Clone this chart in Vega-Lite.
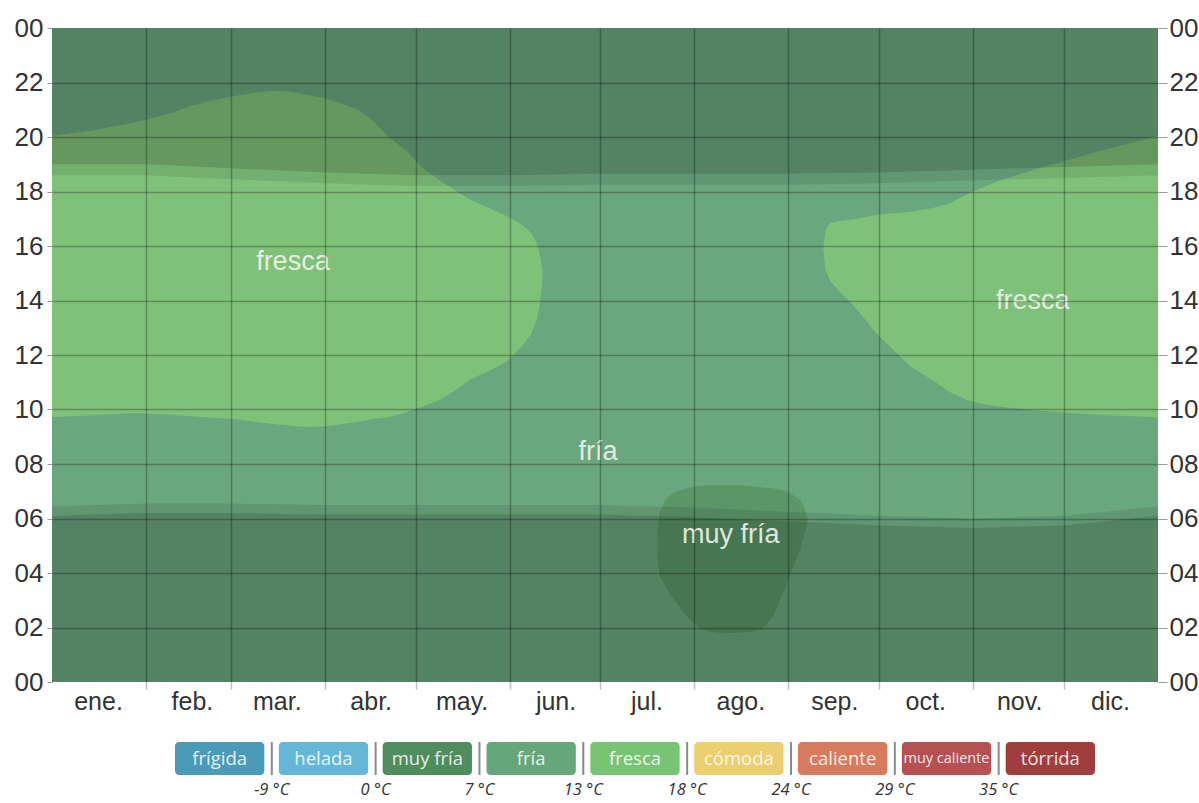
{
  "$schema": "https://vega.github.io/schema/vega-lite/v6.json",
  "padding": {"left": 14, "top": 15, "right": 5, "bottom": 5},
  "background": "white",
  "config": {"font": "Liberation Sans", "view": {"stroke": null}},
  "datasets": {
    "regions": [
      {"cat": "fría", "region": "fr", "day": 0, "hi": 24, "lo": 0},
      {"cat": "fría", "region": "fr", "day": 365, "hi": 24, "lo": 0},
      {"cat": "fresca", "region": "f1", "day": 0, "hi": 20.05, "lo": 9.72},
      {"cat": "fresca", "region": "f1", "day": 14, "hi": 20.25, "lo": 9.8},
      {"cat": "fresca", "region": "f1", "day": 28, "hi": 20.55, "lo": 9.87},
      {"cat": "fresca", "region": "f1", "day": 40, "hi": 20.9, "lo": 9.8},
      {"cat": "fresca", "region": "f1", "day": 46, "hi": 21.15, "lo": 9.75},
      {"cat": "fresca", "region": "f1", "day": 53, "hi": 21.35, "lo": 9.7},
      {"cat": "fresca", "region": "f1", "day": 60, "hi": 21.5, "lo": 9.65},
      {"cat": "fresca", "region": "f1", "day": 67, "hi": 21.62, "lo": 9.55},
      {"cat": "fresca", "region": "f1", "day": 73, "hi": 21.7, "lo": 9.47},
      {"cat": "fresca", "region": "f1", "day": 79, "hi": 21.65, "lo": 9.4},
      {"cat": "fresca", "region": "f1", "day": 84, "hi": 21.55, "lo": 9.36},
      {"cat": "fresca", "region": "f1", "day": 90, "hi": 21.42, "lo": 9.38},
      {"cat": "fresca", "region": "f1", "day": 95, "hi": 21.25, "lo": 9.45},
      {"cat": "fresca", "region": "f1", "day": 101, "hi": 21.0, "lo": 9.55},
      {"cat": "fresca", "region": "f1", "day": 106, "hi": 20.6, "lo": 9.65},
      {"cat": "fresca", "region": "f1", "day": 111, "hi": 20.0, "lo": 9.72},
      {"cat": "fresca", "region": "f1", "day": 117, "hi": 19.5, "lo": 9.9},
      {"cat": "fresca", "region": "f1", "day": 122, "hi": 18.9, "lo": 10.1},
      {"cat": "fresca", "region": "f1", "day": 128, "hi": 18.4, "lo": 10.35},
      {"cat": "fresca", "region": "f1", "day": 133, "hi": 18.05, "lo": 10.7},
      {"cat": "fresca", "region": "f1", "day": 138, "hi": 17.7, "lo": 11.1},
      {"cat": "fresca", "region": "f1", "day": 144, "hi": 17.4, "lo": 11.4},
      {"cat": "fresca", "region": "f1", "day": 150, "hi": 17.1, "lo": 11.75},
      {"cat": "fresca", "region": "f1", "day": 155, "hi": 16.8, "lo": 12.3},
      {"cat": "fresca", "region": "f1", "day": 158, "hi": 16.5, "lo": 12.75},
      {"cat": "fresca", "region": "f1", "day": 160, "hi": 16.1, "lo": 13.3},
      {"cat": "fresca", "region": "f1", "day": 161.2, "hi": 15.6, "lo": 14.0},
      {"cat": "fresca", "region": "f1", "day": 161.8, "hi": 15.1, "lo": 14.6},
      {"cat": "fresca", "region": "f2", "day": 254.5, "hi": 15.9, "lo": 15.9},
      {"cat": "fresca", "region": "f2", "day": 255.3, "hi": 16.6, "lo": 15.1},
      {"cat": "fresca", "region": "f2", "day": 257, "hi": 16.85, "lo": 14.7},
      {"cat": "fresca", "region": "f2", "day": 260, "hi": 16.92, "lo": 14.3},
      {"cat": "fresca", "region": "f2", "day": 263, "hi": 16.95, "lo": 14.0},
      {"cat": "fresca", "region": "f2", "day": 268, "hi": 17.05, "lo": 13.35},
      {"cat": "fresca", "region": "f2", "day": 272, "hi": 17.15, "lo": 12.8},
      {"cat": "fresca", "region": "f2", "day": 278, "hi": 17.2, "lo": 12.15},
      {"cat": "fresca", "region": "f2", "day": 283, "hi": 17.25, "lo": 11.6},
      {"cat": "fresca", "region": "f2", "day": 291, "hi": 17.4, "lo": 11.05},
      {"cat": "fresca", "region": "f2", "day": 296, "hi": 17.55, "lo": 10.65},
      {"cat": "fresca", "region": "f2", "day": 302, "hi": 17.9, "lo": 10.35},
      {"cat": "fresca", "region": "f2", "day": 307, "hi": 18.15, "lo": 10.2},
      {"cat": "fresca", "region": "f2", "day": 313, "hi": 18.4, "lo": 10.1},
      {"cat": "fresca", "region": "f2", "day": 324, "hi": 18.8, "lo": 9.97},
      {"cat": "fresca", "region": "f2", "day": 335, "hi": 19.15, "lo": 9.88},
      {"cat": "fresca", "region": "f2", "day": 346, "hi": 19.5, "lo": 9.8},
      {"cat": "fresca", "region": "f2", "day": 355, "hi": 19.75, "lo": 9.76},
      {"cat": "fresca", "region": "f2", "day": 365, "hi": 20.05, "lo": 9.72},
      {"cat": "muy fría", "region": "mf", "day": 199.8, "hi": 5.4, "lo": 4.6},
      {"cat": "muy fría", "region": "mf", "day": 200.5, "hi": 6.2, "lo": 3.9},
      {"cat": "muy fría", "region": "mf", "day": 202.5, "hi": 6.7, "lo": 3.5},
      {"cat": "muy fría", "region": "mf", "day": 205, "hi": 6.95, "lo": 3.05},
      {"cat": "muy fría", "region": "mf", "day": 209.5, "hi": 7.12, "lo": 2.4},
      {"cat": "muy fría", "region": "mf", "day": 214, "hi": 7.2, "lo": 1.95},
      {"cat": "muy fría", "region": "mf", "day": 219, "hi": 7.22, "lo": 1.82},
      {"cat": "muy fría", "region": "mf", "day": 224, "hi": 7.22, "lo": 1.8},
      {"cat": "muy fría", "region": "mf", "day": 229, "hi": 7.2, "lo": 1.82},
      {"cat": "muy fría", "region": "mf", "day": 234, "hi": 7.15, "lo": 1.9},
      {"cat": "muy fría", "region": "mf", "day": 238, "hi": 7.1, "lo": 2.4},
      {"cat": "muy fría", "region": "mf", "day": 242.5, "hi": 7.0, "lo": 3.6},
      {"cat": "muy fría", "region": "mf", "day": 246.8, "hi": 6.7, "lo": 4.85},
      {"cat": "muy fría", "region": "mf", "day": 248.5, "hi": 6.35, "lo": 5.5},
      {"cat": "muy fría", "region": "mf", "day": 249.3, "hi": 6.0, "lo": 5.85}
    ],
    "night": [
      {"day": 0, "night_end": 6.1, "day_start": 6.45, "day_end": 18.6, "night_start": 19.0},
      {"day": 31, "night_end": 6.2, "day_start": 6.55, "day_end": 18.6, "night_start": 19.0},
      {"day": 59, "night_end": 6.2, "day_start": 6.55, "day_end": 18.45, "night_start": 18.85},
      {"day": 90, "night_end": 6.15, "day_start": 6.5, "day_end": 18.3, "night_start": 18.7},
      {"day": 120, "night_end": 6.15, "day_start": 6.5, "day_end": 18.2, "night_start": 18.6},
      {"day": 151, "night_end": 6.15, "day_start": 6.5, "day_end": 18.2, "night_start": 18.6},
      {"day": 181, "night_end": 6.15, "day_start": 6.5, "day_end": 18.25, "night_start": 18.65},
      {"day": 212, "night_end": 6.05, "day_start": 6.4, "day_end": 18.25, "night_start": 18.65},
      {"day": 243, "night_end": 5.9, "day_start": 6.25, "day_end": 18.25, "night_start": 18.65},
      {"day": 273, "night_end": 5.75, "day_start": 6.1, "day_end": 18.3, "night_start": 18.7},
      {"day": 304, "night_end": 5.65, "day_start": 6.0, "day_end": 18.4, "night_start": 18.8},
      {"day": 334, "night_end": 5.75, "day_start": 6.1, "day_end": 18.5, "night_start": 18.9},
      {"day": 365, "night_end": 6.1, "day_start": 6.45, "day_end": 18.6, "night_start": 19.0}
    ],
    "labels": [
      {"label": "fresca", "day": 79.5, "hour": 15.4},
      {"label": "fresca", "day": 323.7, "hour": 14.0},
      {"label": "fría", "day": 180.2, "hour": 8.45},
      {"label": "muy fría", "day": 224, "hour": 5.4}
    ],
    "legend": [
      {"cat": "frígida", "threshold": "-9 °C"},
      {"cat": "helada", "threshold": "0 °C"},
      {"cat": "muy fría", "threshold": "7 °C"},
      {"cat": "fría", "threshold": "13 °C"},
      {"cat": "fresca", "threshold": "18 °C"},
      {"cat": "cómoda", "threshold": "24 °C"},
      {"cat": "caliente", "threshold": "29 °C"},
      {"cat": "muy caliente", "threshold": "35 °C"},
      {"cat": "tórrida", "threshold": ""}
    ]
  },
  "resolve": {"scale": {"color": "independent", "x": "independent"}},
  "spacing": 27,
  "vconcat": [
    {
      "width": 1106,
      "height": 654,
      "resolve": {"axis": {"y": "independent"}},
      "layer": [
        {
          "data": {"name": "regions"},
          "transform": [{"filter": "datum.cat == 'fría'"}],
          "mark": {"type": "area"},
          "encoding": {
            "x": {
              "field": "day", "type": "quantitative",
              "scale": {"domain": [0, 365], "nice": false, "zero": false},
              "axis": {
                "title": null, "domain": false,
                "values": [0, 31, 59, 90, 120, 151, 181, 212, 243, 273, 304, 334, 365],
                "labelExpr": "datum.value >= 365 ? '' : ['ene.','feb.','mar.','abr.','may.','jun.','jul.','ago.','sep.','oct.','nov.','dic.'][indexof([0,31,59,90,120,151,181,212,243,273,304,334], datum.value)]",
                "labelOffset": 46, "labelFlush": false, "labelOverlap": false, "labelAlign": "center",
                "labelFontSize": 25, "labelColor": "#333", "labelPadding": 0,
                "tickSize": 7, "tickColor": "#000", "tickWidth": 1.5,
                "tickOpacity": {"condition": {"test": "datum.value == 0 || datum.value == 365", "value": 0}, "value": 0.25},
                "grid": true, "gridColor": "#000", "gridWidth": 1.5,
                "gridOpacity": {"condition": {"test": "datum.value == 0 || datum.value == 365", "value": 0}, "value": 0.27},
                "zindex": 1
              }
            },
            "y": {
              "field": "hi", "type": "quantitative",
              "scale": {"domain": [0, 24], "nice": false, "zero": false},
              "axis": {
                "orient": "left", "title": null, "domain": false,
                "values": [0, 2, 4, 6, 8, 10, 12, 14, 16, 18, 20, 22, 24],
                "labelExpr": "(datum.value % 24 < 10 ? '0' : '') + (datum.value % 24)",
                "labelFontSize": 26, "labelColor": "#333", "labelPadding": 4,
                "tickSize": 5, "tickColor": "#999",
                "grid": true, "gridColor": "#000", "gridWidth": 1.5,
                "gridOpacity": {"condition": {"test": "datum.value == 0 || datum.value == 24", "value": 0}, "value": 0.27},
                "zindex": 1
              }
            },
            "y2": {"field": "lo"},
            "color": {"field": "cat", "type": "nominal", "scale": {"domain": ["muy fría", "fría", "fresca"], "range": ["#5b9669", "#6aa77e", "#7fc179"]}, "legend": null},
            "detail": {"field": "region"}
          }
        },
        {
          "data": {"name": "regions"},
          "transform": [{"filter": "datum.cat == 'fresca'"}],
          "mark": {"type": "area"},
          "encoding": {
            "x": {"field": "day", "type": "quantitative"},
            "y": {"field": "hi", "type": "quantitative", "axis": null},
            "y2": {"field": "lo"},
            "color": {"field": "cat", "type": "nominal", "legend": null},
            "detail": {"field": "region"}
          }
        },
        {
          "data": {"name": "regions"},
          "transform": [{"filter": "datum.cat == 'muy fría'"}],
          "mark": {"type": "area"},
          "encoding": {
            "x": {"field": "day", "type": "quantitative"},
            "y": {"field": "hi", "type": "quantitative", "axis": null},
            "y2": {"field": "lo"},
            "color": {"field": "cat", "type": "nominal", "legend": null},
            "detail": {"field": "region"}
          }
        },
        {
          "data": {"name": "night"},
          "mark": {"type": "area", "color": "#000", "opacity": 0.09},
          "encoding": {
            "x": {"field": "day", "type": "quantitative"},
            "y": {"field": "day_start", "type": "quantitative", "axis": null},
            "y2": {"field": "night_end"}
          }
        },
        {
          "data": {"name": "night"},
          "mark": {"type": "area", "color": "#000", "opacity": 0.09},
          "encoding": {
            "x": {"field": "day", "type": "quantitative"},
            "y": {"field": "night_start", "type": "quantitative", "axis": null},
            "y2": {"field": "day_end"}
          }
        },
        {
          "data": {"name": "night"},
          "mark": {"type": "area", "color": "#000", "opacity": 0.21},
          "encoding": {
            "x": {"field": "day", "type": "quantitative"},
            "y": {"field": "night_end", "type": "quantitative", "axis": null},
            "y2": {"datum": 0}
          }
        },
        {
          "data": {"name": "night"},
          "mark": {"type": "area", "color": "#000", "opacity": 0.21},
          "encoding": {
            "x": {"field": "day", "type": "quantitative"},
            "y": {"field": "night_start", "type": "quantitative", "axis": null},
            "y2": {"datum": 24}
          }
        },
        {
          "data": {"name": "labels"},
          "mark": {"type": "text", "fontSize": 27, "color": "#eef5ec", "opacity": 0.9},
          "encoding": {
            "x": {"field": "day", "type": "quantitative"},
            "y": {
              "field": "hour", "type": "quantitative",
              "axis": {
                "orient": "right", "title": null, "domain": false, "grid": false,
                "values": [0, 2, 4, 6, 8, 10, 12, 14, 16, 18, 20, 22, 24],
                "labelExpr": "(datum.value % 24 < 10 ? '0' : '') + (datum.value % 24)",
                "labelFontSize": 26, "labelColor": "#333", "labelPadding": 2,
                "tickSize": 9, "tickColor": "#999"
              }
            },
            "text": {"field": "label"}
          }
        }
      ]
    },
    {
      "width": 1106,
      "height": 33,
      "data": {"name": "legend"},
      "layer": [
        {
          "mark": {"type": "rect", "cornerRadius": 4},
          "encoding": {
            "x": {
              "field": "cat", "type": "nominal", "sort": null, "axis": null,
              "scale": {"domain": ["frígida", "helada", "muy fría", "fría", "fresca", "cómoda", "caliente", "muy caliente", "tórrida"], "range": [123, 1043], "paddingInner": 0.14, "paddingOuter": 0}
            },
            "color": {
              "field": "cat", "type": "nominal", "legend": null,
              "scale": {"domain": ["frígida", "helada", "muy fría", "fría", "fresca", "cómoda", "caliente", "muy caliente", "tórrida"], "range": ["#4a9bb7", "#62b8d6", "#4f8c5e", "#65a67a", "#78c374", "#eccf70", "#d77a5e", "#b55152", "#a03e3f"]}
            }
          }
        },
        {
          "mark": {"type": "text", "font": "Open Sans", "color": "#ffffff", "opacity": 0.85},
          "encoding": {
            "x": {"field": "cat", "type": "nominal", "sort": null, "bandPosition": 0.5},
            "text": {"field": "cat"},
            "size": {"condition": {"test": "datum.cat == 'muy caliente'", "value": 14.5}, "value": 18.5}
          }
        },
        {
          "transform": [{"filter": "datum.threshold != ''"}],
          "mark": {"type": "rule", "color": "#8a8a8a", "strokeWidth": 2, "xOffset": 7.5},
          "encoding": {
            "x": {"field": "cat", "type": "nominal", "sort": null, "bandPosition": 1}
          }
        },
        {
          "transform": [{"filter": "datum.threshold != ''"}],
          "mark": {"type": "text", "fontSize": 16.5, "fontStyle": "italic", "font": "Open Sans", "color": "#333", "dx": 7.5, "dy": 31},
          "encoding": {
            "x": {"field": "cat", "type": "nominal", "sort": null, "bandPosition": 1},
            "text": {"field": "threshold"}
          }
        }
      ]
    }
  ]
}
